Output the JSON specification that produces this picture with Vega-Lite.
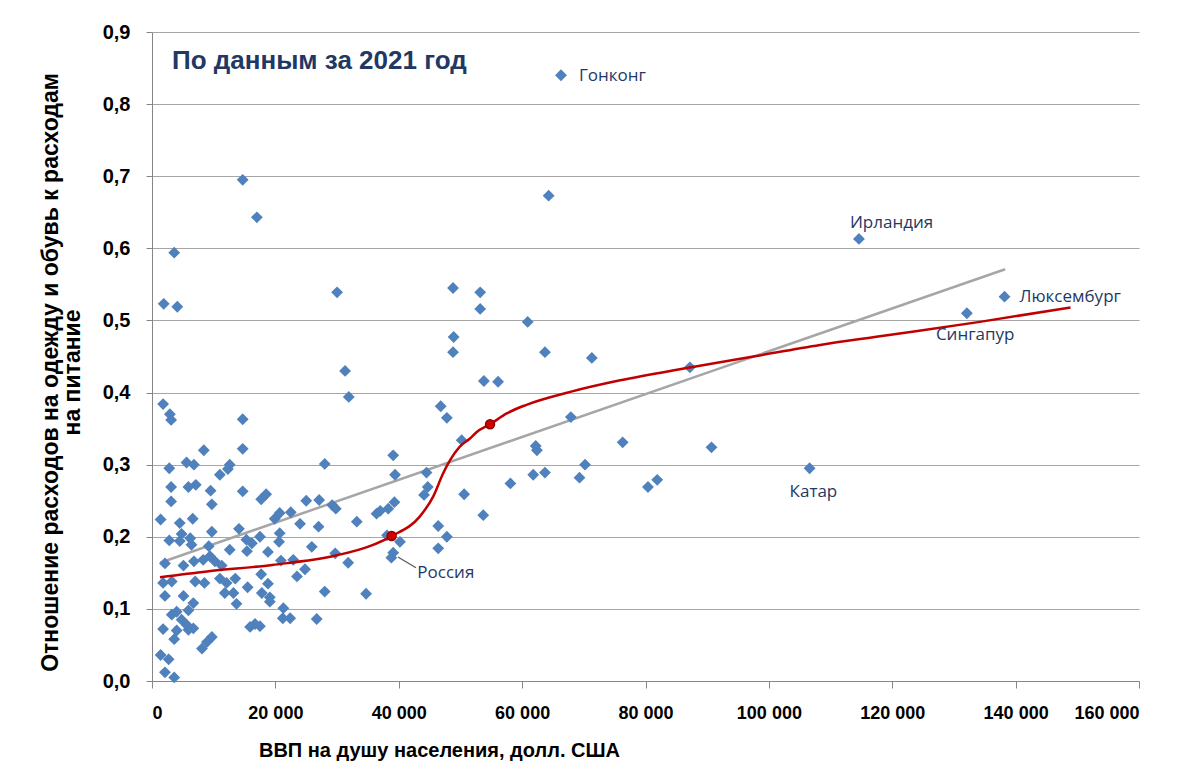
{
  "$schema": "https://vega.github.io/schema/vega-lite/v6.json",
  "width": 987,
  "height": 649,
  "autosize": {"type": "none"},
  "padding": {"left": 152, "top": 32, "right": 56, "bottom": 102},
  "background": "white",
  "config": {"view": {"stroke": null}},
  "title": {
    "text": "По данным за 2021 год",
    "anchor": "start",
    "frame": "group",
    "orient": "top",
    "baseline": "middle",
    "offset": -32,
    "dx": 20,
    "dy": 33,
    "font": "Liberation Sans",
    "fontSize": 26,
    "fontWeight": "bold",
    "color": "#1F3864"
  },
  "datasets": {
    "points": [
      {"x": 66300, "y": 0.840, "label": "Гонконг"},
      {"x": 64300, "y": 0.673}, {"x": 14700, "y": 0.695}, {"x": 17000, "y": 0.643}, {"x": 3600, "y": 0.594},
      {"x": 114600, "y": 0.613, "label": "Ирландия"},
      {"x": 138200, "y": 0.533, "label": "Люксембург"},
      {"x": 132100, "y": 0.510, "label": "Сингапур"},
      {"x": 1900, "y": 0.523}, {"x": 4100, "y": 0.519}, {"x": 30000, "y": 0.539}, {"x": 48800, "y": 0.545},
      {"x": 53200, "y": 0.539}, {"x": 53200, "y": 0.516}, {"x": 60900, "y": 0.498}, {"x": 48900, "y": 0.477},
      {"x": 48800, "y": 0.456}, {"x": 63700, "y": 0.456}, {"x": 71300, "y": 0.448}, {"x": 87200, "y": 0.435},
      {"x": 31300, "y": 0.430}, {"x": 31900, "y": 0.394}, {"x": 53800, "y": 0.416}, {"x": 56100, "y": 0.415},
      {"x": 46800, "y": 0.381}, {"x": 47800, "y": 0.365}, {"x": 67900, "y": 0.366}, {"x": 1800, "y": 0.384},
      {"x": 2900, "y": 0.370}, {"x": 3100, "y": 0.362}, {"x": 14700, "y": 0.363}, {"x": 50200, "y": 0.334},
      {"x": 8400, "y": 0.320}, {"x": 14700, "y": 0.322}, {"x": 2800, "y": 0.295}, {"x": 5600, "y": 0.303},
      {"x": 6800, "y": 0.300}, {"x": 11000, "y": 0.286}, {"x": 12600, "y": 0.300}, {"x": 12300, "y": 0.294},
      {"x": 3100, "y": 0.269}, {"x": 5900, "y": 0.269}, {"x": 7100, "y": 0.272}, {"x": 9500, "y": 0.264},
      {"x": 14700, "y": 0.263}, {"x": 3100, "y": 0.249}, {"x": 9700, "y": 0.245}, {"x": 17700, "y": 0.252},
      {"x": 18500, "y": 0.259}, {"x": 1400, "y": 0.224}, {"x": 4500, "y": 0.219}, {"x": 6600, "y": 0.225},
      {"x": 19900, "y": 0.225}, {"x": 20700, "y": 0.233}, {"x": 22500, "y": 0.234}, {"x": 2800, "y": 0.195},
      {"x": 4500, "y": 0.194}, {"x": 4800, "y": 0.204}, {"x": 6200, "y": 0.198}, {"x": 6400, "y": 0.189},
      {"x": 9700, "y": 0.207}, {"x": 14100, "y": 0.211}, {"x": 15300, "y": 0.196}, {"x": 16200, "y": 0.191},
      {"x": 17500, "y": 0.200}, {"x": 20700, "y": 0.205}, {"x": 20600, "y": 0.193}, {"x": 18800, "y": 0.179},
      {"x": 15400, "y": 0.180}, {"x": 12600, "y": 0.182}, {"x": 9200, "y": 0.187}, {"x": 2100, "y": 0.163},
      {"x": 5100, "y": 0.160}, {"x": 6800, "y": 0.166}, {"x": 8300, "y": 0.168}, {"x": 10200, "y": 0.166},
      {"x": 11300, "y": 0.160}, {"x": 20900, "y": 0.167}, {"x": 1800, "y": 0.136}, {"x": 3200, "y": 0.138},
      {"x": 7000, "y": 0.138}, {"x": 8500, "y": 0.136}, {"x": 11000, "y": 0.142}, {"x": 12100, "y": 0.136},
      {"x": 13500, "y": 0.142}, {"x": 15500, "y": 0.130}, {"x": 17700, "y": 0.148}, {"x": 18800, "y": 0.135},
      {"x": 2100, "y": 0.118}, {"x": 5100, "y": 0.118}, {"x": 11800, "y": 0.122}, {"x": 13200, "y": 0.122},
      {"x": 13700, "y": 0.107}, {"x": 17800, "y": 0.122}, {"x": 19100, "y": 0.116}, {"x": 19100, "y": 0.110},
      {"x": 6700, "y": 0.108}, {"x": 5900, "y": 0.098}, {"x": 3200, "y": 0.092}, {"x": 4000, "y": 0.096},
      {"x": 4800, "y": 0.085}, {"x": 5600, "y": 0.078}, {"x": 6700, "y": 0.073}, {"x": 5900, "y": 0.071},
      {"x": 1800, "y": 0.072}, {"x": 4000, "y": 0.070}, {"x": 3600, "y": 0.058}, {"x": 15900, "y": 0.075},
      {"x": 16700, "y": 0.079}, {"x": 17500, "y": 0.076}, {"x": 21300, "y": 0.101}, {"x": 21200, "y": 0.087},
      {"x": 22400, "y": 0.087}, {"x": 9700, "y": 0.061}, {"x": 8900, "y": 0.054}, {"x": 8100, "y": 0.045},
      {"x": 1400, "y": 0.036}, {"x": 2700, "y": 0.030}, {"x": 2100, "y": 0.012}, {"x": 3600, "y": 0.005},
      {"x": 23500, "y": 0.145}, {"x": 24800, "y": 0.155}, {"x": 22900, "y": 0.168}, {"x": 26700, "y": 0.086},
      {"x": 28000, "y": 0.124}, {"x": 25900, "y": 0.186}, {"x": 29700, "y": 0.177}, {"x": 9400, "y": 0.173},
      {"x": 25000, "y": 0.250}, {"x": 27100, "y": 0.251}, {"x": 29200, "y": 0.244}, {"x": 29800, "y": 0.239},
      {"x": 24000, "y": 0.218}, {"x": 27000, "y": 0.214}, {"x": 33200, "y": 0.221}, {"x": 36400, "y": 0.232},
      {"x": 37000, "y": 0.236}, {"x": 38300, "y": 0.239}, {"x": 39300, "y": 0.248}, {"x": 39100, "y": 0.313},
      {"x": 28000, "y": 0.301}, {"x": 39400, "y": 0.286}, {"x": 44500, "y": 0.289}, {"x": 44100, "y": 0.258},
      {"x": 44700, "y": 0.269}, {"x": 50600, "y": 0.259}, {"x": 53700, "y": 0.230}, {"x": 46400, "y": 0.215},
      {"x": 47800, "y": 0.200}, {"x": 46400, "y": 0.184}, {"x": 40200, "y": 0.193}, {"x": 38100, "y": 0.202},
      {"x": 39100, "y": 0.178},
      {"x": 38800, "y": 0.171, "label": "Россия"},
      {"x": 31800, "y": 0.164}, {"x": 34700, "y": 0.121}, {"x": 58100, "y": 0.274}, {"x": 61800, "y": 0.286},
      {"x": 63700, "y": 0.289}, {"x": 62200, "y": 0.326}, {"x": 62400, "y": 0.320},
      {"x": 76300, "y": 0.331}, {"x": 90700, "y": 0.324},
      {"x": 106600, "y": 0.295, "label": "Катар"},
      {"x": 70200, "y": 0.300}, {"x": 69300, "y": 0.282}, {"x": 80400, "y": 0.269}, {"x": 81900, "y": 0.279}
    ],
    "trend": [
      {"x": 1300, "y": 0.164},
      {"x": 138300, "y": 0.571}
    ],
    "curve": [
      {"x": 1300, "y": 0.144}, {"x": 8900, "y": 0.152}, {"x": 19500, "y": 0.161}, {"x": 29800, "y": 0.174},
      {"x": 35300, "y": 0.187}, {"x": 38850, "y": 0.201}, {"x": 43400, "y": 0.228}, {"x": 45600, "y": 0.256},
      {"x": 47200, "y": 0.288}, {"x": 48300, "y": 0.306}, {"x": 49900, "y": 0.325}, {"x": 51500, "y": 0.336},
      {"x": 52600, "y": 0.345}, {"x": 54800, "y": 0.356}, {"x": 57500, "y": 0.371}, {"x": 60700, "y": 0.383},
      {"x": 67800, "y": 0.401}, {"x": 75900, "y": 0.417}, {"x": 86700, "y": 0.434}, {"x": 97500, "y": 0.450},
      {"x": 108300, "y": 0.466}, {"x": 118000, "y": 0.478}, {"x": 134200, "y": 0.498}, {"x": 148900, "y": 0.518}
    ],
    "knots": [
      {"x": 38850, "y": 0.201},
      {"x": 54800, "y": 0.356}
    ],
    "leader": [
      {"x": 39870, "y": 0.172, "x2": 42790, "y2": 0.157}
    ]
  },
  "encoding": {
    "x": {
      "field": "x", "type": "quantitative",
      "scale": {"domain": [0, 160000], "nice": false, "zero": false},
      "axis": {
        "values": [0, 20000, 40000, 60000, 80000, 100000, 120000, 140000, 160000],
        "labelExpr": "replace(format(datum.value, ','), ',', ' ')",
        "grid": false,
        "domainColor": "#868686",
        "tickColor": "#868686",
        "tickSize": 7,
        "labelPadding": 16,
        "labelFont": "Liberation Sans",
        "labelFontSize": 18,
        "labelFontWeight": "bold",
        "labelColor": "#000000",
        "title": "ВВП на душу населения, долл. США",
        "titleFont": "Liberation Sans",
        "titleFontSize": 20,
        "titleFontWeight": "bold",
        "titleColor": "#000000",
        "titleX": 287,
        "titleY": 69,
        "titleAlign": "center",
        "titleBaseline": "middle"
      }
    },
    "y": {
      "field": "y", "type": "quantitative",
      "scale": {"domain": [0, 0.9], "nice": false},
      "axis": {
        "values": [0, 0.1, 0.2, 0.3, 0.4, 0.5, 0.6, 0.7, 0.8, 0.9],
        "labelExpr": "replace(format(datum.value, '.1f'), '.', ',')",
        "grid": true,
        "gridColor": "#A6A6A6",
        "gridWidth": 1,
        "domainColor": "#868686",
        "tickColor": "#868686",
        "tickSize": 6,
        "labelPadding": 16,
        "labelFont": "Liberation Sans",
        "labelFontSize": 20,
        "labelFontWeight": "bold",
        "labelColor": "#000000",
        "title": ["Отношение расходов на одежду и обувь к расходам", "на питание"],
        "titleFont": "Liberation Sans",
        "titleFontSize": 23,
        "titleFontWeight": "bold",
        "titleColor": "#000000",
        "titleLineHeight": 22,
        "titlePadding": 18,
        "titleY": 340
      }
    }
  },
  "layer": [
    {
      "data": {"name": "trend"},
      "mark": {"type": "line", "color": "#A6A6A6", "strokeWidth": 2.5}
    },
    {
      "data": {"name": "points"},
      "mark": {"type": "point", "shape": "diamond", "filled": true, "color": "#4F81BD", "opacity": 1, "size": 140}
    },
    {
      "data": {"name": "curve"},
      "mark": {"type": "line", "color": "#C00000", "strokeWidth": 2.5, "interpolate": "monotone"}
    },
    {
      "data": {"name": "knots"},
      "mark": {"type": "point", "shape": "circle", "filled": true, "fill": "#D40000", "stroke": "#8B0000", "strokeWidth": 1.5, "opacity": 1, "size": 80}
    },
    {
      "data": {"name": "leader"},
      "mark": {"type": "rule", "color": "#595959", "strokeWidth": 1.2},
      "encoding": {
        "x2": {"field": "x2"},
        "y2": {"field": "y2"}
      }
    },
    {
      "data": {"name": "points"},
      "transform": [{"filter": "datum.label == 'Гонконг'"}],
      "mark": {"type": "text", "align": "left", "baseline": "middle", "dx": 18, "dy": 1, "font": "Open Sans", "fontSize": 17, "color": "#1F3864"},
      "encoding": {"text": {"field": "label"}}
    },
    {
      "data": {"name": "points"},
      "transform": [{"filter": "datum.label == 'Ирландия'"}],
      "mark": {"type": "text", "align": "left", "baseline": "middle", "dx": -9, "dy": -16, "font": "Open Sans", "fontSize": 17, "color": "#1F3864"},
      "encoding": {"text": {"field": "label"}}
    },
    {
      "data": {"name": "points"},
      "transform": [{"filter": "datum.label == 'Люксембург'"}],
      "mark": {"type": "text", "align": "left", "baseline": "middle", "dx": 15, "dy": 0, "font": "Open Sans", "fontSize": 17, "color": "#1F3864"},
      "encoding": {"text": {"field": "label"}}
    },
    {
      "data": {"name": "points"},
      "transform": [{"filter": "datum.label == 'Сингапур'"}],
      "mark": {"type": "text", "align": "left", "baseline": "middle", "dx": -31, "dy": 22, "font": "Open Sans", "fontSize": 17, "color": "#1F3864"},
      "encoding": {"text": {"field": "label"}}
    },
    {
      "data": {"name": "points"},
      "transform": [{"filter": "datum.label == 'Катар'"}],
      "mark": {"type": "text", "align": "left", "baseline": "middle", "dx": -20, "dy": 24, "font": "Open Sans", "fontSize": 17, "color": "#1F3864"},
      "encoding": {"text": {"field": "label"}}
    },
    {
      "data": {"name": "points"},
      "transform": [{"filter": "datum.label == 'Россия'"}],
      "mark": {"type": "text", "align": "left", "baseline": "middle", "dx": 26, "dy": 15, "font": "Open Sans", "fontSize": 17, "color": "#1F3864"},
      "encoding": {"text": {"field": "label"}}
    }
  ]
}
